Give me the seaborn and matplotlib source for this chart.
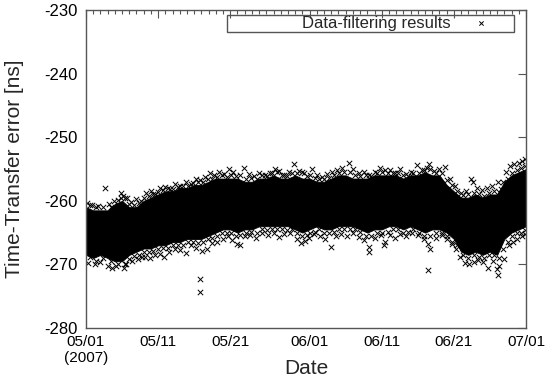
import pandas as pd
import matplotlib
matplotlib.use("Agg")
import matplotlib.pyplot as plt
import matplotlib.dates as mdates
from matplotlib.patches import Rectangle
from matplotlib.ticker import FixedLocator, FixedFormatter, NullFormatter
import seaborn as sns

START = pd.Timestamp("2007-05-01")

# Dense core of the filtered samples: daily upper / lower bound [ns]
core_day = list(range(62))
core_hi = [-261.0, -261.5, -261.5, -261.5, -260.5, -260.0, -261.0, -261.0, -260.0, -259.5,
           -259.0, -258.5, -258.5, -258.0, -258.0, -257.5, -257.5, -257.0, -256.5, -256.5,
           -256.5, -256.5, -257.0, -257.0, -256.5, -256.5, -256.0, -256.5, -256.5, -256.0,
           -256.5, -256.5, -257.0, -257.0, -256.5, -256.0, -256.0, -256.5, -256.5, -256.5,
           -256.0, -256.0, -256.0, -256.0, -256.5, -256.0, -256.0, -255.5, -256.0, -256.0,
           -257.5, -258.5, -259.5, -259.5, -259.0, -259.5, -259.0, -259.0, -257.0, -256.0,
           -255.5, -255.0]
core_lo = [-268.5, -269.0, -268.5, -269.0, -269.5, -269.5, -268.5, -268.0, -267.5, -267.5,
           -267.0, -267.0, -266.5, -266.5, -266.0, -266.0, -266.0, -265.5, -265.0, -264.5,
           -264.5, -265.0, -264.5, -264.5, -264.0, -264.0, -264.0, -264.0, -264.0, -264.5,
           -265.0, -264.5, -264.0, -264.5, -264.5, -264.0, -264.0, -264.0, -264.5, -265.0,
           -264.5, -264.5, -264.0, -264.0, -264.5, -264.0, -264.5, -265.0, -264.5, -264.5,
           -265.0, -266.0, -268.0, -268.5, -268.0, -268.5, -268.0, -268.5, -266.0, -265.0,
           -264.5, -264.0]

# Samples sitting just on the upper / lower rim of the core
rim_day = [0.5, 1.4, 2.3, 3.5, 4.4, 5.4, 6.0, 6.7, 7.3, 8.0, 8.7, 9.3, 10.0, 10.7, 11.4,
           12.0, 12.8, 13.5, 14.2, 14.9, 15.5, 16.2, 16.9, 17.5, 18.2, 18.9, 19.5, 20.1,
           20.8, 21.4, 22.2, 22.9, 23.7, 24.4, 25.1, 25.8, 26.5, 27.2, 27.9, 28.5, 29.2,
           29.9, 30.6, 31.1, 31.7, 32.3, 33.0, 33.7, 34.4, 35.1, 35.8, 36.6, 37.3, 38.0,
           38.8, 39.5, 40.3, 41.0, 41.8, 42.5, 43.2, 43.9, 44.7, 45.4, 46.2, 46.9, 47.7,
           48.5, 49.3, 50.1, 50.8, 51.5, 52.3, 53.0, 53.8, 54.5, 55.2, 55.9, 56.6, 57.3,
           57.8, 58.5, 59.1, 59.7, 60.3, 60.8]
rim_top = [-260.6, -261.0, -260.9, -261.0, -259.9, -259.5, -260.5, -260.6, -260.4, -259.6,
           -259.2, -259.0, -258.6, -258.3, -258.0, -258.1, -257.8, -257.6, -257.7, -257.2,
           -257.0, -257.1, -256.6, -256.5, -256.2, -256.0, -256.2, -256.0, -256.1, -255.9,
           -256.5, -256.4, -256.5, -256.0, -256.1, -255.7, -255.5, -256.0, -256.1, -255.6,
           -255.7, -255.5, -256.1, -256.0, -256.4, -256.6, -256.6, -256.4, -256.0, -255.6,
           -255.5, -255.4, -256.0, -256.1, -256.0, -256.1, -255.6, -255.5, -255.6, -255.7,
           -255.6, -256.0, -256.1, -255.6, -255.6, -255.2, -255.0, -255.6, -255.6, -256.8,
           -257.5, -258.4, -259.1, -259.0, -258.7, -258.9, -259.2, -258.7, -258.5, -258.6,
           -257.0, -256.5, -255.6, -255.2, -254.9, -254.5]
rim_bot = [-268.9, -269.4, -269.0, -269.5, -270.0, -269.9, -269.2, -268.7, -268.5, -268.0,
           -268.1, -267.9, -267.5, -267.4, -267.4, -267.0, -266.9, -267.0, -266.5, -266.4,
           -266.6, -266.4, -266.0, -265.9, -265.5, -265.0, -265.0, -265.1, -265.5, -265.4,
           -265.0, -264.9, -265.0, -264.5, -264.6, -264.4, -264.5, -264.4, -264.6, -264.5,
           -265.0, -265.6, -265.4, -265.0, -264.9, -264.5, -265.0, -265.1, -264.9, -264.5,
           -264.4, -264.5, -264.4, -264.9, -265.5, -265.6, -265.0, -265.0, -264.9, -264.5,
           -264.5, -265.0, -264.9, -264.5, -265.0, -265.5, -265.5, -265.0, -265.0, -265.5,
           -266.4, -267.0, -268.6, -269.0, -268.6, -268.9, -269.0, -268.6, -268.5, -269.0,
           -267.5, -266.5, -265.6, -265.1, -265.0, -264.6]

# Scattered samples beyond the rim, plus isolated outliers
edge_day = [
    0.2, 0.9, 1.6, 2.6, 3.2, 3.9, 4.9, 4.9, 5.1, 5.7, 6.3, 7.0, 7.6,
    0.3, 1.2, 2.0, 3.1, 3.6, 4.2, 5.3, 5.6, 6.4, 7.2, 7.8,
    8.3, 9.0, 9.6, 10.3, 11.0, 11.7, 12.4, 13.1, 13.8, 14.5, 15.2, 15.8, 16.5, 17.2, 17.8,
    18.5, 19.2, 19.8,
    8.2, 8.9, 9.5, 10.2, 10.8, 11.5, 12.3, 13.0, 13.8, 14.6, 15.3, 16.1, 16.8, 17.5, 18.2,
    19.0, 19.7,
    15.8, 15.8,
    20.4, 21.9, 22.6, 23.3, 24.0, 24.8, 25.5, 26.2, 26.8, 27.5, 28.2, 28.8, 29.5, 30.2,
    31.4, 32.0, 32.7, 33.4, 34.1, 34.8, 35.5, 36.4, 37.0, 37.8, 38.5, 39.2, 40.0, 40.8, 41.5,
    20.3, 21.0, 21.3, 22.0, 22.8, 23.6, 24.4, 25.2, 26.0, 26.8, 27.5, 28.3, 29.3, 29.8,
    30.3, 30.9, 31.6, 32.4, 33.2, 33.9, 34.6, 35.4, 36.2, 37.0, 37.8, 38.6, 39.3, 39.3,
    40.1, 40.9, 41.5, 41.3,
    42.2, 42.9, 43.6, 44.3, 45.0, 45.9, 46.6, 47.5, 47.3, 48.2, 48.9, 49.8, 50.5, 51.2,
    52.0, 52.7, 53.4, 53.6, 54.2, 54.9, 55.6, 56.3, 57.1, 57.5, 58.2, 58.8, 59.4, 60.0,
    60.5, 60.9,
    42.2, 42.9, 43.6, 44.4, 45.2, 46.0, 46.8, 47.4, 47.7, 48.5, 49.3, 50.0, 50.7, 51.3,
    51.9, 52.5, 53.1, 53.8, 54.4, 55.1, 55.8, 56.4, 57.1, 57.0, 57.3, 58.0, 58.6, 59.2,
    59.8, 60.4, 60.9,
    47.4,
]
edge_val = [
    -260.3, -260.6, -260.8, -258.0, -260.5, -260.0, -258.8, -259.5, -259.2, -259.6, -260.2,
    -259.7, -260.0,
    -269.8, -270.0, -269.6, -270.3, -270.6, -270.2, -270.6, -270.0, -269.4, -269.2, -268.8,
    -258.8, -258.5, -259.0, -258.0, -257.8, -258.2, -257.4, -257.6, -257.0, -257.3, -256.6,
    -256.8, -256.2, -255.6, -256.0, -255.4, -255.8, -255.0,
    -268.8, -269.0, -268.5, -268.3, -268.9, -268.0, -267.5, -267.8, -268.2, -267.0, -267.4,
    -267.9, -267.6, -266.6, -266.4, -266.0, -265.6,
    -272.3, -274.4,
    -255.4, -254.9, -255.8, -256.1, -255.6, -255.9, -255.6, -255.0, -255.3, -256.0, -255.5,
    -254.2, -255.3, -255.7, -255.0, -255.9, -256.2, -255.8, -255.5, -255.2, -254.8, -254.0,
    -255.0, -255.6, -255.4, -255.9, -255.5, -254.9, -255.2,
    -266.1, -266.8, -267.0, -265.6, -265.3, -265.8, -265.0, -265.4, -265.1, -265.7, -265.2,
    -265.0, -266.0, -266.6, -266.3, -265.8, -265.2, -265.5, -266.0, -267.3, -265.6, -265.2,
    -265.5, -265.0, -265.7, -266.2, -268.0, -267.2, -265.8, -265.4, -266.5, -266.9,
    -255.2, -255.6, -255.0, -255.8, -255.4, -254.4, -255.1, -254.2, -254.8, -255.3, -255.0,
    -254.7, -256.5, -257.6, -258.8, -258.5, -256.5, -257.0, -258.0, -258.3, -258.0, -257.7,
    -257.0, -258.2, -255.5, -254.6, -254.2, -254.0, -253.8, -253.4,
    -265.3, -265.8, -265.2, -265.6, -265.0, -265.4, -266.0, -266.8, -267.5, -265.8, -265.3,
    -266.0, -266.8, -267.5, -268.8, -269.8, -270.0, -269.6, -269.3, -269.7, -270.6, -269.5,
    -271.7, -270.8, -270.2, -269.2, -267.0, -266.5, -266.0, -265.5, -265.2,
    -270.9,
]

tick_dates = ["2007-05-01", "2007-05-11", "2007-05-21", "2007-06-01",
              "2007-06-11", "2007-06-21", "2007-07-01"]
tick_labels = ["05/01\n(2007)", "05/11", "05/21", "06/01", "06/11", "06/21", "07/01"]
y_ticks = [-280, -270, -260, -250, -240, -230]

core = pd.DataFrame({
    "date": START + pd.to_timedelta(core_day, unit="D"),
    "hi": core_hi,
    "lo": core_lo,
})
samples = pd.DataFrame({
    "date": START + pd.to_timedelta(edge_day + rim_day + rim_day, unit="D"),
    "error": edge_val + rim_top + rim_bot,
})

sns.set_theme(style="white")
plt.rcParams["font.family"] = ["Liberation Sans", "DejaVu Sans"]

fig = plt.figure(figsize=(5.47, 3.80), dpi=100)
ax = fig.add_axes([86 / 547, 1 - 328 / 380, 440 / 547, 318 / 380])

ax.fill_between(core["date"], core["lo"], core["hi"], color="black", lw=0.6,
                edgecolor="black")
sns.scatterplot(data=samples, x="date", y="error", marker="x", color="black",
                s=15, linewidth=0.7, ax=ax, label="Data-filtering results", legend=False)

ax.set_xlim(pd.Timestamp(tick_dates[0]), pd.Timestamp(tick_dates[-1]))
ax.set_ylim(-280, -230)

major = [mdates.date2num(pd.Timestamp(d)) for d in tick_dates]
minor = [mdates.date2num(START + pd.Timedelta(days=i)) for i in range(62)]
ax.xaxis.set_major_locator(FixedLocator(major))
ax.xaxis.set_major_formatter(FixedFormatter(tick_labels))
ax.xaxis.set_minor_locator(FixedLocator(minor))
ax.xaxis.set_minor_formatter(NullFormatter())
ax.set_yticks(y_ticks)
ax.set_yticklabels([str(v) for v in y_ticks])

ax.tick_params(axis="both", which="both", direction="in", top=True, right=True,
               color="#555555", width=0.8, labelsize=12, labelcolor="black")
ax.tick_params(axis="x", which="major", labelsize=11)
ax.tick_params(axis="both", which="major", length=6)
ax.tick_params(axis="x", which="minor", length=3)
ax.tick_params(axis="x", which="major", pad=5)
ax.tick_params(axis="y", which="major", pad=6)
for sp in ax.spines.values():
    sp.set_color("#555555")
    sp.set_linewidth(1.0)

ax.set_xlabel("Date", fontsize=15)
ax.set_ylabel("Time-Transfer error [ns]", fontsize=15)
ax.xaxis.set_label_coords(0.5, -0.098)
ax.yaxis.set_label_coords(-0.140, 0.5)

# key box across the top of the panel
ax.add_patch(Rectangle((0.321, 0.931), 0.652, 0.053, transform=ax.transAxes,
                       fill=False, edgecolor="#555555", lw=1.0, zorder=5))
ax.legend(loc="center right", bbox_to_anchor=(0.917, 0.958), frameon=False,
          markerfirst=False, handlelength=1.0, handletextpad=1.36, borderpad=0,
          borderaxespad=0, fontsize=12, markerscale=0.8)

fig.savefig("out.png", dpi=100)
